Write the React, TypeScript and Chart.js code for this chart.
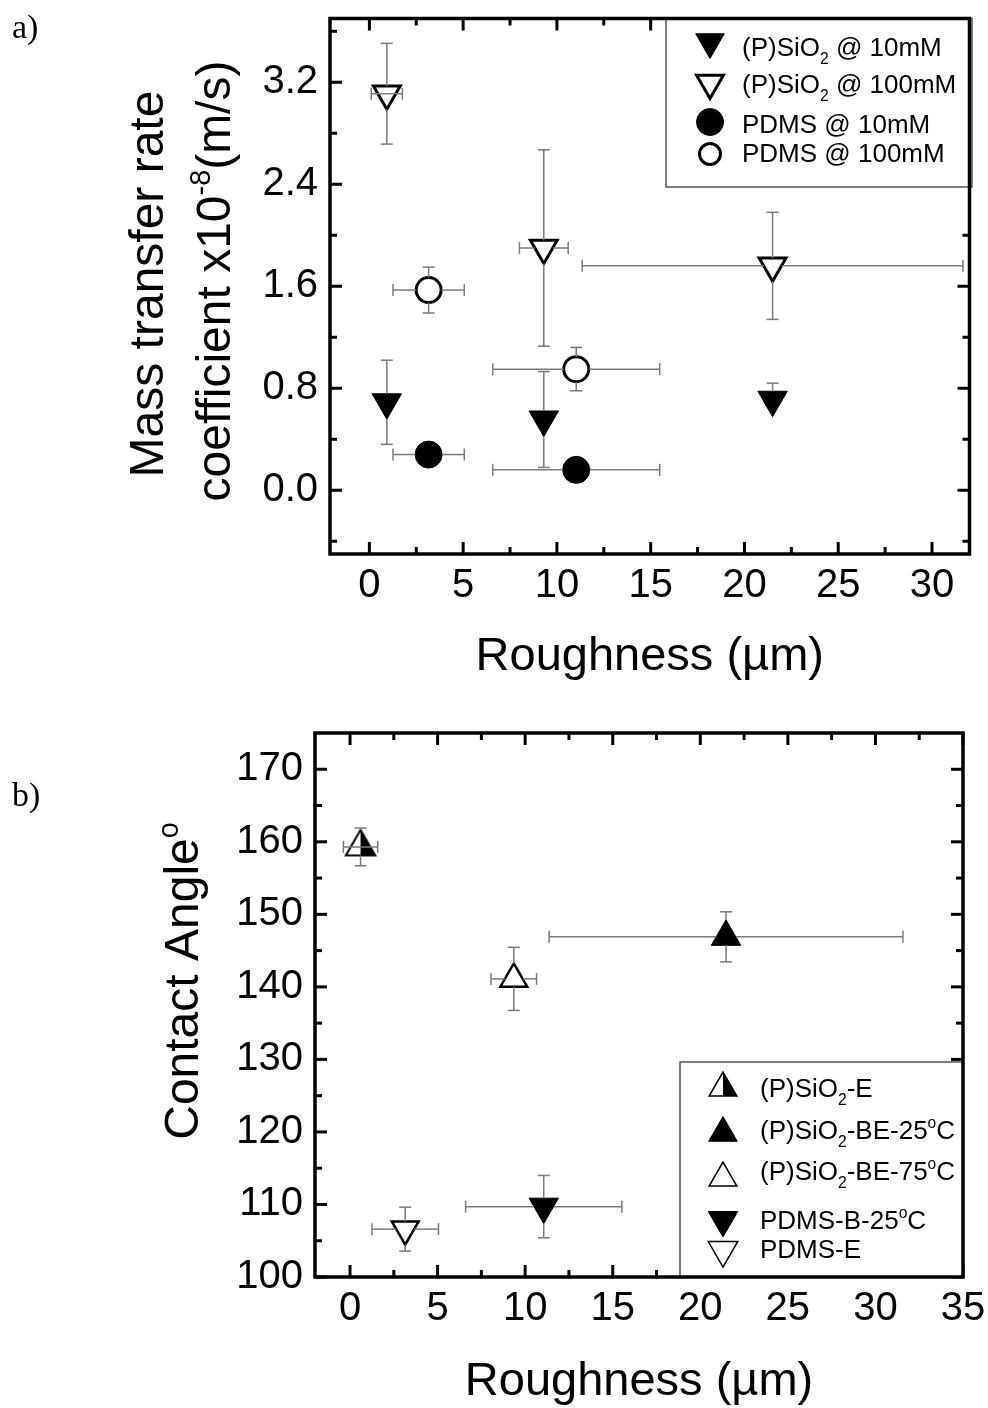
import React, { useEffect, useRef } from 'react';
import { Chart, registerables } from 'chart.js';

Chart.register(...registerables);

const SANS = "'Liberation Sans', Arial, Helvetica, sans-serif";
const SERIF = "'Liberation Serif', 'Times New Roman', serif";
const ERR_COLOR = '#7a7a7a';

// ---------------- panel a : mass transfer ----------------
const aXRange = [-2.1, 32];
const aYRange = [-0.5, 3.7];
const aXTicks = [0, 5, 10, 15, 20, 25, 30];
const aXMinor = [2.5, 7.5, 12.5, 17.5, 22.5, 27.5];
const aYTicks = [0, 0.8, 1.6, 2.4, 3.2];
const aYMinor = [-0.4, 0.4, 1.2, 2.0, 2.8, 3.6];
const aSeriesNames = ['(P)SiO_2 @ 10mM', '(P)SiO_2 @ 100mM', 'PDMS @ 10mM', 'PDMS @ 100mM'];

const sio10X = [0.93, 9.3, 21.5];
const sio10Y = [0.69, 0.555, 0.71];
const sio10XErr = [0, 0, 0];
const sio10YErr = [0.33, 0.376, 0.13];

const sio100X = [0.93, 9.3, 21.5];
const sio100Y = [3.11, 1.9, 1.76];
const sio100XErr = [0.83, 1.3, 10.15];
const sio100YErr = [0.395, 0.77, 0.42];

const pdms10X = [3.16, 11.03];
const pdms10Y = [0.28, 0.16];
const pdms10XErr = [1.9, 4.45];
const pdms10YErr = [0, 0];

const pdms100X = [3.16, 11.03];
const pdms100Y = [1.57, 0.95];
const pdms100XErr = [1.9, 4.45];
const pdms100YErr = [0.18, 0.17];

// ---------------- panel b : contact angle ----------------
const bXRange = [-2, 35];
const bYRange = [100, 175];
const bXTicks = [0, 5, 10, 15, 20, 25, 30, 35];
const bXMinor = [2.5, 7.5, 12.5, 17.5, 22.5, 27.5, 32.5];
const bYTicks = [100, 110, 120, 130, 140, 150, 160, 170];
const bYMinor = [105, 115, 125, 135, 145, 155, 165];
const bSeriesNames = ['(P)SiO_2-E', '(P)SiO_2-BE-25^oC', '(P)SiO_2-BE-75^oC', 'PDMS-B-25^oC', 'PDMS-E'];

const sioEX = [0.6];
const sioEY = [159.3];
const sioEXErr = [0.98];
const sioEYErr = [2.6];

const sioBE25X = [21.47];
const sioBE25Y = [146.9];
const sioBE25XErr = [10.1];
const sioBE25YErr = [3.45];

const sioBE75X = [9.35];
const sioBE75Y = [141.1];
const sioBE75XErr = [1.3];
const sioBE75YErr = [4.35];

const pdmsB25X = [11.06];
const pdmsB25Y = [109.7];
const pdmsB25XErr = [4.46];
const pdmsB25YErr = [4.3];

const pdmsEX = [3.15];
const pdmsEY = [106.6];
const pdmsEXErr = [1.9];
const pdmsEYErr = [3.03];

// ---------------- helpers ----------------
type Part = { t: string; k: number };

function parseRich(s: string): Part[] {
  const parts: Part[] = [];
  let buf = '';
  for (let i = 0; i < s.length; i++) {
    const c = s[i];
    if ((c === '_' || c === '^') && i + 1 < s.length) {
      if (buf) { parts.push({ t: buf, k: 0 }); buf = ''; }
      let t: string;
      const j = i + 1;
      if (s[j] === '{') {
        const e = s.indexOf('}', j);
        t = s.slice(j + 1, e);
        i = e;
      } else {
        t = s[j];
        i = j;
      }
      parts.push({ t, k: c === '_' ? -1 : 1 });
    } else {
      buf += c;
    }
  }
  if (buf) parts.push({ t: buf, k: 0 });
  return parts;
}

function setFont(ctx: CanvasRenderingContext2D, size: number, family = SANS) {
  ctx.font = `${size}px ${family}`;
}

function richWidth(ctx: CanvasRenderingContext2D, parts: Part[], size: number) {
  let w = 0;
  for (const p of parts) {
    setFont(ctx, p.k === 0 ? size : size * 0.6);
    w += ctx.measureText(p.t).width;
  }
  return w;
}

function drawRich(ctx: CanvasRenderingContext2D, text: string, x: number, y: number, size: number, align: 'left' | 'center') {
  const parts = parseRich(text);
  let cx = x;
  if (align === 'center') cx = x - richWidth(ctx, parts, size) / 2;
  ctx.textAlign = 'left';
  ctx.textBaseline = 'alphabetic';
  ctx.fillStyle = '#000';
  for (const p of parts) {
    const s = p.k === 0 ? size : size * 0.6;
    setFont(ctx, s);
    const dy = p.k === 0 ? 0 : p.k < 0 ? size * 0.3 : -size * 0.42;
    ctx.fillText(p.t, cx, y + dy);
    cx += ctx.measureText(p.t).width;
  }
}

function markerPath(ctx: CanvasRenderingContext2D, kind: string, x: number, y: number, r: number) {
  ctx.beginPath();
  if (kind === 'circle') {
    ctx.arc(x, y, r, 0, Math.PI * 2);
  } else {
    const s = kind === 'down' ? -1 : 1;
    const h = (r * Math.sqrt(3)) / 2;
    ctx.moveTo(x, y - s * r);
    ctx.lineTo(x + h, y + (s * r) / 2);
    ctx.lineTo(x - h, y + (s * r) / 2);
    ctx.closePath();
  }
}

function drawMarker(ctx: CanvasRenderingContext2D, kind: string, x: number, y: number, r: number, fill: string, lw: number) {
  ctx.save();
  ctx.lineJoin = 'miter';
  if (kind === 'half') {
    markerPath(ctx, 'up', x, y, r);
    ctx.fillStyle = '#fff';
    ctx.fill();
    const h = (r * Math.sqrt(3)) / 2;
    ctx.beginPath();
    ctx.moveTo(x, y - r);
    ctx.lineTo(x + h, y + r / 2);
    ctx.lineTo(x, y + r / 2);
    ctx.closePath();
    ctx.fillStyle = '#000';
    ctx.fill();
    markerPath(ctx, 'up', x, y, r);
  } else {
    markerPath(ctx, kind, x, y, r);
    ctx.fillStyle = fill;
    ctx.fill();
  }
  ctx.lineWidth = lw;
  ctx.strokeStyle = '#000';
  ctx.stroke();
  ctx.restore();
}

function makeHalfTriangle(r: number, lw: number) {
  const size = Math.ceil(2 * r + 2 * lw + 6);
  const c = document.createElement('canvas');
  c.width = size;
  c.height = size;
  const g = c.getContext('2d') as CanvasRenderingContext2D;
  drawMarker(g, 'half', size / 2, size / 2, r, '#000', lw);
  return c;
}

function pts(xs: number[], ys: number[]) {
  return xs.map((x, i) => ({ x, y: ys[i] }));
}

function makeDataset(label: string, xs: number[], ys: number[], ex: number[], ey: number[], kind: string, fill: string, r: number, lw: number, style?: any) {
  return {
    label,
    data: pts(xs, ys),
    errX: ex,
    errY: ey,
    marker: kind,
    mr: r,
    mlw: lw,
    pointStyle: style ?? (kind === 'circle' ? 'circle' : 'triangle'),
    pointRotation: kind === 'down' ? 180 : 0,
    pointRadius: r,
    pointHoverRadius: r,
    pointBorderWidth: lw,
    pointHoverBorderWidth: lw,
    pointBackgroundColor: fill,
    pointBorderColor: '#000',
    backgroundColor: fill,
    borderColor: '#000',
    showLine: false,
  };
}

const errorBarPlugin = {
  id: 'errorBars',
  afterDatasetsDraw(chart: any) {
    const ctx: CanvasRenderingContext2D = chart.ctx;
    const xs = chart.scales.x;
    const ys = chart.scales.y;
    const cap = 6;
    ctx.save();
    ctx.strokeStyle = ERR_COLOR;
    ctx.lineWidth = 1.5;
    const seg = (x1: number, y1: number, x2: number, y2: number) => {
      ctx.beginPath();
      ctx.moveTo(x1, y1);
      ctx.lineTo(x2, y2);
      ctx.stroke();
    };
    chart.data.datasets.forEach((ds: any, di: number) => {
      const meta = chart.getDatasetMeta(di);
      meta.data.forEach((el: any, i: number) => {
        const p = ds.data[i];
        const cx = el.x;
        const cy = el.y;
        const r = ds.mr;
        const kind = ds.marker;
        const ex = ds.errX[i];
        const ey = ds.errY[i];
        if (ey > 0) {
          const top = ys.getPixelForValue(p.y + ey);
          const bot = ys.getPixelForValue(p.y - ey);
          let gUp = r;
          let gDown = r;
          if (kind === 'up' || kind === 'half') { gUp = r; gDown = r / 2; }
          if (kind === 'down') { gUp = r / 2; gDown = r; }
          if (cy - top > gUp) {
            seg(cx, cy - gUp, cx, top);
            seg(cx - cap, top, cx + cap, top);
          }
          if (bot - cy > gDown) {
            seg(cx, cy + gDown, cx, bot);
            seg(cx - cap, bot, cx + cap, bot);
          }
        }
        if (ex > 0) {
          const lft = xs.getPixelForValue(p.x - ex);
          const rgt = xs.getPixelForValue(p.x + ex);
          const hw = kind === 'circle' ? r : r / Math.sqrt(3);
          if (rgt - cx < hw * 1.8) {
            seg(lft, cy, rgt, cy);
          } else {
            seg(lft, cy, cx - hw, cy);
            seg(cx + hw, cy, rgt, cy);
          }
          seg(lft, cy - cap, lft, cy + cap);
          seg(rgt, cy - cap, rgt, cy + cap);
        }
      });
    });
    ctx.restore();
  },
};

type LegendRow = { kind: string; fill: string; r: number; lw: number; my: number; base: number };

type Decor = {
  xMajor: number[];
  xMinor: number[];
  yMajor: number[];
  yMinor: number[];
  names: string[];
  rows: LegendRow[];
  markerX: number;
  textX: number;
  legendFont: number;
  box: (a: any) => { l: number; t: number; r: number; b: number };
  extra: (ctx: CanvasRenderingContext2D, a: any) => void;
};

function makeDecor(d: Decor) {
  return {
    id: 'decor',
    afterDraw(chart: any) {
      const ctx: CanvasRenderingContext2D = chart.ctx;
      const a = chart.chartArea;
      const xs = chart.scales.x;
      const ys = chart.scales.y;
      ctx.save();
      ctx.strokeStyle = '#000';
      ctx.lineCap = 'butt';
      ctx.lineWidth = 3;
      const line = (x1: number, y1: number, x2: number, y2: number) => {
        ctx.beginPath();
        ctx.moveTo(x1, y1);
        ctx.lineTo(x2, y2);
        ctx.stroke();
      };
      const xt = (vals: number[], len: number) => {
        vals.forEach((v) => {
          const px = xs.getPixelForValue(v);
          line(px, a.bottom, px, a.bottom - len);
          line(px, a.top, px, a.top + len);
        });
      };
      const yt = (vals: number[], len: number) => {
        vals.forEach((v) => {
          const py = ys.getPixelForValue(v);
          line(a.left, py, a.left + len, py);
          line(a.right, py, a.right - len, py);
        });
      };
      xt(d.xMajor, 12);
      xt(d.xMinor, 7);
      yt(d.yMajor, 12);
      yt(d.yMinor, 7);

      // legend box
      const b = d.box(a);
      ctx.fillStyle = '#fff';
      ctx.fillRect(b.l, b.t, b.r - b.l, b.b - b.t);
      ctx.strokeStyle = '#555';
      ctx.lineWidth = 1.5;
      ctx.strokeRect(b.l, b.t, b.r - b.l, b.b - b.t);

      // frame
      ctx.strokeStyle = '#000';
      ctx.lineWidth = 3.5;
      ctx.strokeRect(a.left, a.top, a.right - a.left, a.bottom - a.top);

      // legend entries
      d.rows.forEach((row, i) => {
        drawMarker(ctx, row.kind, d.markerX, row.my, row.r, row.fill, row.lw);
        drawRich(ctx, d.names[i], d.textX, row.base, d.legendFont, 'left');
      });

      d.extra(ctx, a);
      ctx.restore();
    },
  };
}

function axis(range: number[], ticks: number[], fmt: (v: number) => string, isX: boolean, fit: number, pad: number) {
  return {
    type: 'linear',
    min: range[0],
    max: range[1],
    position: isX ? 'bottom' : 'left',
    grid: { display: false, drawTicks: false },
    border: { display: false },
    title: { display: false },
    ticks: {
      font: { family: SANS, size: 40 },
      color: '#000',
      padding: pad,
      autoSkip: false,
      maxRotation: 0,
      minRotation: 0,
      callback: (v: any) => fmt(Number(v)),
    },
    afterBuildTicks: (s: any) => {
      s.ticks = ticks.map((v) => ({ value: v }));
    },
    afterFit: (s: any) => {
      if (isX) s.height = fit;
      else s.width = fit;
      s.paddingTop = 0;
      s.paddingBottom = 0;
      s.paddingLeft = 0;
      s.paddingRight = 0;
    },
  };
}

function rotatedText(ctx: CanvasRenderingContext2D, text: string, bx: number, cy: number, size: number) {
  ctx.save();
  ctx.translate(bx, cy);
  ctx.rotate(-Math.PI / 2);
  drawRich(ctx, text, 0, 0, size, 'center');
  ctx.restore();
}

function configA() {
  const datasets = [
    makeDataset(aSeriesNames[0], sio10X, sio10Y, sio10XErr, sio10YErr, 'down', '#000', 17, 1),
    makeDataset(aSeriesNames[1], sio100X, sio100Y, sio100XErr, sio100YErr, 'down', '#fff', 15.5, 3),
    makeDataset(aSeriesNames[2], pdms10X, pdms10Y, pdms10XErr, pdms10YErr, 'circle', '#000', 13.5, 1),
    makeDataset(aSeriesNames[3], pdms100X, pdms100Y, pdms100XErr, pdms100YErr, 'circle', '#fff', 12.5, 3),
  ];
  const decor = makeDecor({
    xMajor: aXTicks,
    xMinor: aXMinor,
    yMajor: aYTicks,
    yMinor: aYMinor,
    names: aSeriesNames,
    rows: [
      { kind: 'down', fill: '#000', r: 16.5, lw: 1, my: 42, base: 56 },
      { kind: 'down', fill: '#fff', r: 15.5, lw: 3, my: 83, base: 93 },
      { kind: 'circle', fill: '#000', r: 13.5, lw: 1, my: 122, base: 133 },
      { kind: 'circle', fill: '#fff', r: 10.5, lw: 3, my: 154, base: 162 },
    ],
    markerX: 710,
    textX: 742,
    legendFont: 26,
    box: (a) => ({ l: 666, t: a.top, r: 972, b: 187 }),
    extra: (ctx, a) => {
      rotatedText(ctx, 'Mass transfer rate', 163, 284, 48);
      rotatedText(ctx, 'coefficient x10^{-8}(m/s)', 230, 281, 48);
      drawRich(ctx, 'Roughness (\u00b5m)', (a.left + a.right) / 2, 670, 47, 'center');
      ctx.font = `34px ${SERIF}`;
      ctx.textAlign = 'left';
      ctx.fillStyle = '#000';
      ctx.fillText('a)', 12, 38);
    },
  });
  return {
    type: 'scatter',
    data: { datasets },
    options: {
      responsive: false,
      animation: false,
      devicePixelRatio: 1,
      events: [],
      layout: { padding: { left: 0, right: 11, top: 12, bottom: 0 } },
      scales: {
        x: axis(aXRange, aXTicks, (v) => String(v), true, 146, 8),
        y: axis(aYRange, aYTicks, (v) => v.toFixed(1), false, 330, 12),
      },
      plugins: { legend: { display: false }, tooltip: { enabled: false } },
    },
    plugins: [errorBarPlugin, decor],
  };
}

function configB(half: HTMLCanvasElement) {
  const datasets = [
    makeDataset(bSeriesNames[0], sioEX, sioEY, sioEXErr, sioEYErr, 'half', '#000', 17, 2, half),
    makeDataset(bSeriesNames[1], sioBE25X, sioBE25Y, sioBE25XErr, sioBE25YErr, 'up', '#000', 17, 1),
    makeDataset(bSeriesNames[2], sioBE75X, sioBE75Y, sioBE75XErr, sioBE75YErr, 'up', '#fff', 15.5, 2.5),
    makeDataset(bSeriesNames[3], pdmsB25X, pdmsB25Y, pdmsB25XErr, pdmsB25YErr, 'down', '#000', 17, 1),
    makeDataset(bSeriesNames[4], pdmsEX, pdmsEY, pdmsEXErr, pdmsEYErr, 'down', '#fff', 15.5, 2.5),
  ];
  const decor = makeDecor({
    xMajor: bXTicks,
    xMinor: bXMinor,
    yMajor: bYTicks,
    yMinor: bYMinor,
    names: bSeriesNames,
    rows: [
      { kind: 'half', fill: '#000', r: 16, lw: 1.5, my: 388, base: 397 },
      { kind: 'up', fill: '#000', r: 16.5, lw: 1, my: 433, base: 439 },
      { kind: 'up', fill: '#fff', r: 16, lw: 1.5, my: 478, base: 480 },
      { kind: 'down', fill: '#000', r: 17, lw: 1, my: 520, base: 529 },
      { kind: 'down', fill: '#fff', r: 17, lw: 1.5, my: 550, base: 558 },
    ],
    markerX: 723,
    textX: 760,
    legendFont: 26,
    box: (a) => ({ l: 680, t: 362, r: a.right, b: a.bottom }),
    extra: (ctx, a) => {
      rotatedText(ctx, 'Contact Angle^o', 198, 281, 48);
      drawRich(ctx, 'Roughness (\u00b5m)', (a.left + a.right) / 2, 695, 47, 'center');
      ctx.font = `34px ${SERIF}`;
      ctx.textAlign = 'left';
      ctx.fillStyle = '#000';
      ctx.fillText('b)', 12, 106);
    },
  });
  return {
    type: 'scatter',
    data: { datasets },
    options: {
      responsive: false,
      animation: false,
      devicePixelRatio: 1,
      events: [],
      layout: { padding: { left: 0, right: 25, top: 33, bottom: 0 } },
      scales: {
        x: axis(bXRange, bXTicks, (v) => String(v), true, 131, 8),
        y: axis(bYRange, bYTicks, (v) => String(v), false, 315, 12),
      },
      plugins: { legend: { display: false }, tooltip: { enabled: false } },
    },
    plugins: [errorBarPlugin, decor],
  };
}

export default function App() {
  const refA = useRef<HTMLCanvasElement>(null);
  const refB = useRef<HTMLCanvasElement>(null);
  useEffect(() => {
    const half = makeHalfTriangle(17, 2);
    const chartA = new Chart(refA.current as HTMLCanvasElement, configA() as any);
    const chartB = new Chart(refB.current as HTMLCanvasElement, configB(half) as any);
    return () => {
      chartA.destroy();
      chartB.destroy();
    };
  }, []);
  return (
    <div style={{ position: 'absolute', left: 0, top: 0, width: 988, height: 1408, background: '#fff' }}>
      <canvas ref={refA} width={988} height={700} style={{ position: 'absolute', left: 0, top: 0, width: 988, height: 700 }} />
      <canvas ref={refB} width={988} height={708} style={{ position: 'absolute', left: 0, top: 700, width: 988, height: 708 }} />
    </div>
  );
}
